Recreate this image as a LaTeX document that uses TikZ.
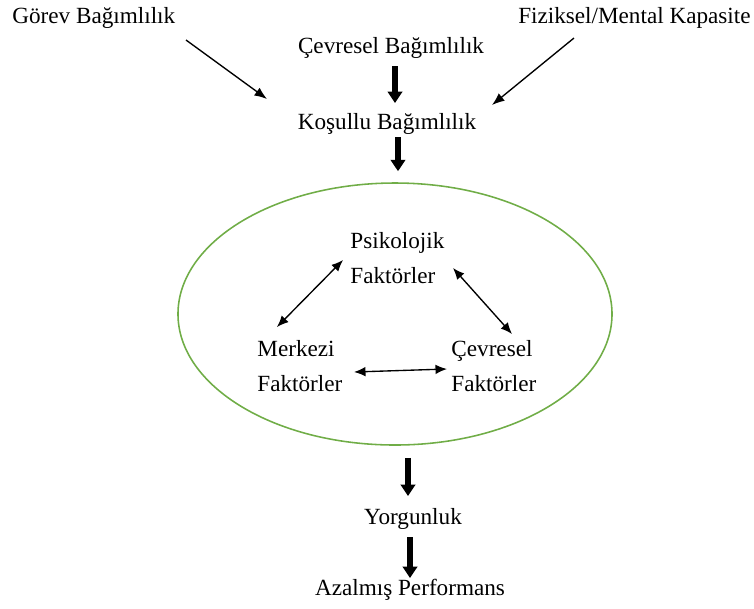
\documentclass[tikz,border=0pt]{standalone}
\usepackage{fontspec}
\setmainfont{Liberation Serif}
\usetikzlibrary{arrows.meta,shapes.geometric,calc}
\definecolor{ovalgreen}{RGB}{112,173,71}

\tikzset{
  lbl/.style={font=\fontsize{11.1pt}{13.3pt}\selectfont, inner sep=0pt},
  pair/.style={lbl, align=left, anchor=west},
  thinarrow/.style={-{Latex[length=6pt,width=4.6pt]}, line width=0.65pt},
  dblarrow/.style={{Latex[length=5.5pt,width=4.6pt]}-{Latex[length=5.5pt,width=4.6pt]}, line width=0.65pt},
  bigarrow/.style={-{Triangle[length=5.4pt,width=6.8pt]}, line width=2.5pt}
}

\begin{document}
\begin{tikzpicture}[x=0.479pt,y=-0.479pt]
\useasboundingbox (0,0) rectangle (754,608);

% top row
\node[lbl, anchor=west] (gorev) at (12,18) {Görev Bağımlılık};
\node[lbl, anchor=east] (fiz) at (751,18) {Fiziksel/Mental Kapasite};
\node[lbl] (cevb) at (391,48) {Çevresel Bağımlılık};
\node[lbl] (kosul) at (387,124) {Koşullu Bağımlılık};

\draw[thinarrow] ($(gorev.west)+(174,22)$) -- ($(kosul)+(-120,-25)$);
\draw[thinarrow] ($(fiz.east)+(-177,20)$) -- ($(kosul)+(105,-19)$);
\draw[bigarrow] ($(cevb)+(4,18)$) -- ($(kosul)+(8,-21)$);

% the oval
\node[draw=ovalgreen, line width=0.75pt, ellipse, inner sep=0pt,
      minimum width=207.9pt, minimum height=125.5pt] (oval) at (395,314) {};
\draw[bigarrow] ($(kosul)+(11,13)$) -- ($(oval.north)+(3,-11)$);

\node[pair] (psik) at (350,258) {Psikolojik\\[3.5pt]Faktörler};
\node[pair] (merk) at (257,366) {Merkezi\\[3.5pt]Faktörler};
\node[pair] (cev) at (451,366) {Çevresel\\[3.5pt]Faktörler};

\draw[dblarrow] ($(psik.west)+(-7,2)$) -- ($(merk.west)+(20,-39)$);
\draw[dblarrow] ($(psik.west)+(103,10)$) -- ($(cev.west)+(61,-32)$);
\draw[dblarrow] ($(merk.west)+(97,6)$) -- ($(cev.west)+(-4,3)$);

% bottom
\node[lbl] (yorg) at (413,519) {Yorgunluk};
\node[lbl] (azal) at (410,590) {Azalmış Performans};
\draw[bigarrow] ($(oval.south)+(13,12)$) -- ($(yorg)+(-5,-23)$);
\draw[bigarrow] ($(yorg)+(-3,18)$) -- ($(azal)+(0,-12)$);
\end{tikzpicture}
\end{document}
